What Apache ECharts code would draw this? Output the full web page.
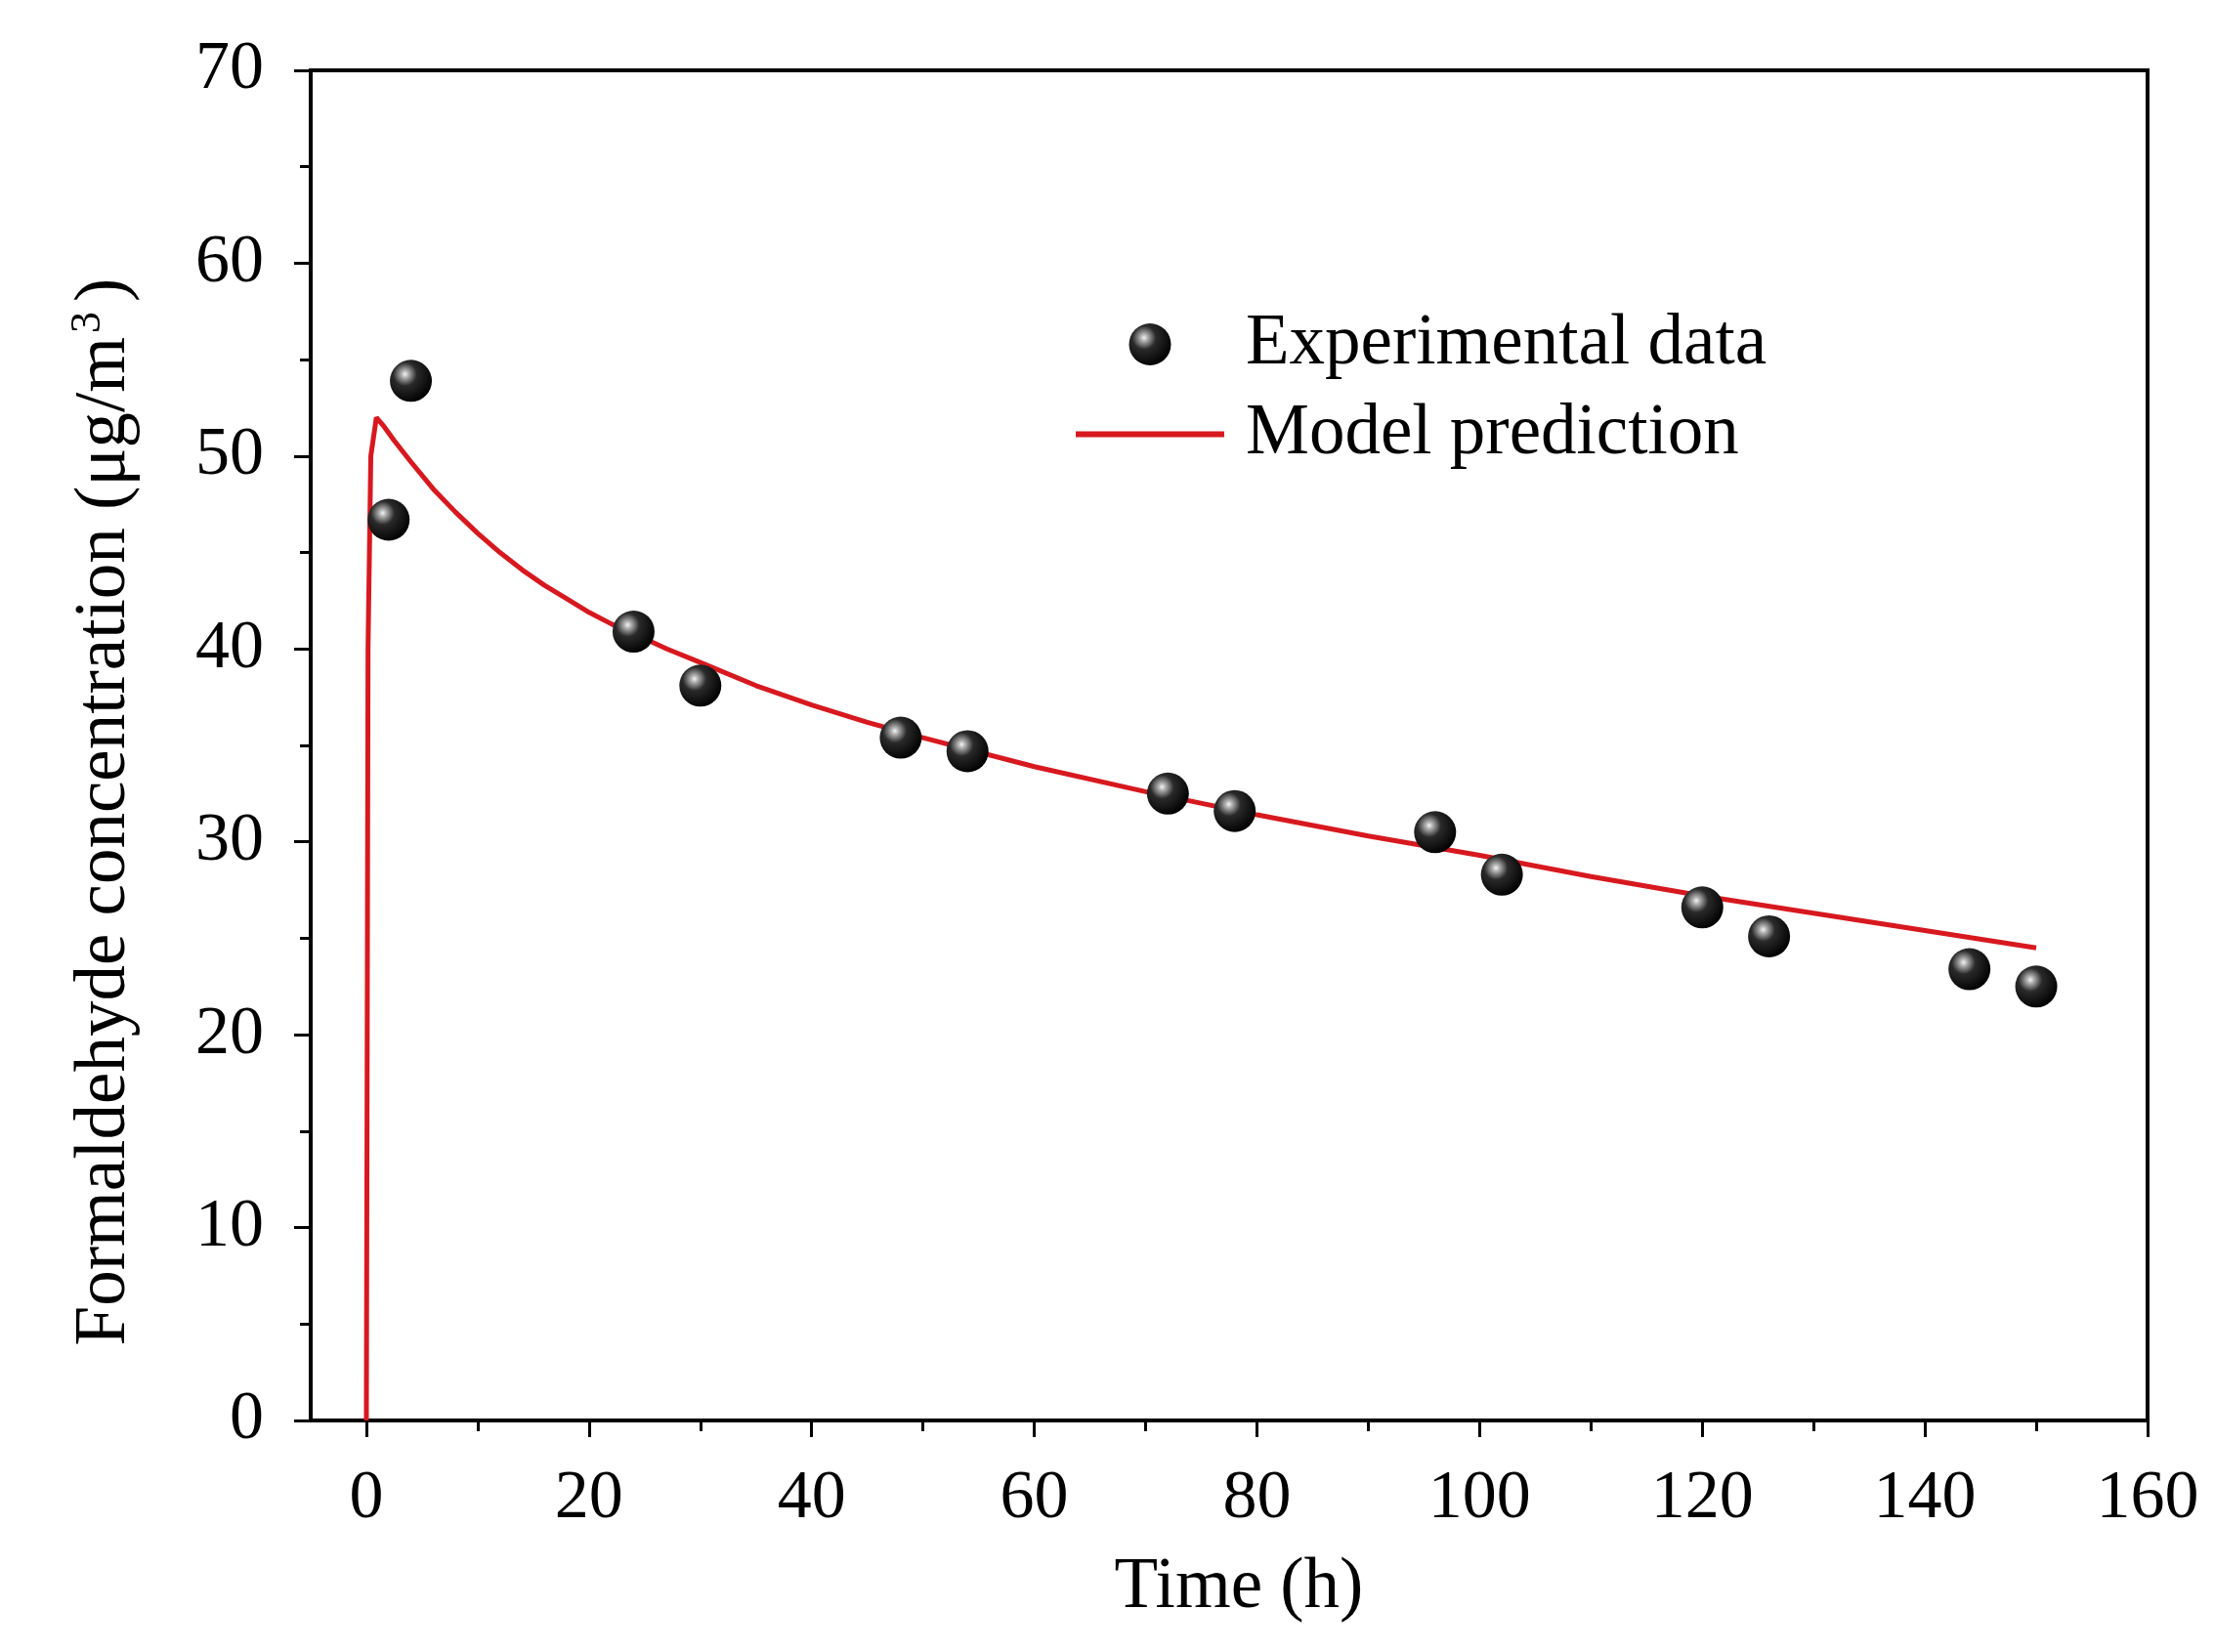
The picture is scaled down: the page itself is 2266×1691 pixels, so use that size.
<!DOCTYPE html>
<html>
<head>
<meta charset="utf-8">
<script src="https://cdn.jsdelivr.net/npm/echarts@6/dist/echarts.min.js"></script>
<style>
  html, body { margin: 0; padding: 0; background: #fff; }
  #container { width: 2266px; height: 1691px; }
</style>
</head>
<body>
<div id="container"></div>
<script>
// experimental points (time in h, concentration in ug/m3)
const expTime = [2, 4, 24, 30, 48, 54, 72, 78, 96, 102, 120, 126, 144, 150];
const expConc = [46.7, 53.9, 40.9, 38.1, 35.4, 34.7, 32.5, 31.6, 30.5, 28.3, 26.6, 25.1, 23.4, 22.5];

// model curve
const modelTime = [0, 0.05, 0.15, 0.4, 0.9, 1.5, 2.5, 4, 6, 8, 10, 12, 14, 16, 18, 20, 22, 24, 27, 30, 35, 40, 45, 50, 60, 70, 80, 90, 100, 110, 120, 130, 140, 150];
const modelConc = [0, 13, 40, 50, 52, 51.6, 50.8, 49.7, 48.3, 47.1, 46.0, 45.0, 44.1, 43.3, 42.6, 41.9, 41.3, 40.8, 40.0, 39.3, 38.1, 37.1, 36.2, 35.4, 33.9, 32.6, 31.4, 30.3, 29.3, 28.2, 27.2, 26.3, 25.4, 24.5];

const xMajor = [0, 20, 40, 60, 80, 100, 120, 140, 160];
const xMinor = [10, 30, 50, 70, 90, 110, 130, 150];

const FONT = 'Liberation Serif';
const RED = '#d7191f';

let dom = document.getElementById('container');
let myChart = echarts.init(dom);

let sphere = {
  type: 'radial', x: 0.36, y: 0.34, r: 0.7,
  colorStops: [
    { offset: 0, color: '#f4f4f4' },
    { offset: 0.12, color: '#b0b0b0' },
    { offset: 0.4, color: '#2a2a2a' },
    { offset: 1, color: '#000000' }
  ]
};

let option = {
  backgroundColor: '#fff',
  animation: false,
  textStyle: { fontFamily: FONT, color: '#000' },
  grid: {
    left: 318, right: 68, top: 72, bottom: 237,
    show: true, borderColor: '#000', borderWidth: 4, backgroundColor: 'transparent'
  },
  legend: {
    orient: 'vertical',
    left: 1098,
    top: 316,
    padding: 0,
    itemWidth: 152,
    itemHeight: 43,
    itemGap: 19,
    textStyle: { fontFamily: FONT, fontSize: 73, lineHeight: 72, color: '#000', padding: [0, 0, 0, 17] },
    data: [
      { name: 'Experimental data', icon: 'circle' },
      {
        name: 'Model prediction',
        itemStyle: { color: 'rgba(0,0,0,0)', borderWidth: 0, opacity: 0 },
        lineStyle: { color: RED, width: 6 }
      }
    ]
  },
  xAxis: [{
    type: 'value',
    min: -5, max: 160,
    name: 'Time (h)',
    nameLocation: 'middle',
    nameGap: 136,
    nameTextStyle: { fontFamily: FONT, fontSize: 73, lineHeight: 72, color: '#000', padding: [0, 0, 0, 20] },
    axisLine: { show: true, onZero: false, lineStyle: { color: '#000', width: 4 } },
    axisTick: { show: true, inside: false, length: 17, customValues: xMajor, lineStyle: { color: '#000', width: 3 } },
    axisLabel: { customValues: xMajor, margin: 45, fontFamily: FONT, fontSize: 70, lineHeight: 72, color: '#000' },
    splitLine: { show: false }
  }, {
    type: 'value',
    min: -5, max: 160,
    position: 'bottom',
    axisLine: { show: false, onZero: false },
    axisTick: { show: true, inside: false, length: 11, customValues: xMinor, lineStyle: { color: '#000', width: 3 } },
    axisLabel: { show: false },
    splitLine: { show: false }
  }],
  yAxis: {
    type: 'value',
    min: 0, max: 70, interval: 10,
    name: '{t|Formaldehyde concentration (μg/m}{s|3}{t|)}',
    nameLocation: 'middle',
    nameRotate: 90,
    nameGap: 170,
    nameTextStyle: {
      padding: [0, 136, 0, 0],
      rich: {
        t: { fontFamily: FONT, fontSize: 73, lineHeight: 80, color: '#000' },
        s: { fontFamily: FONT, fontSize: 44, lineHeight: 44, verticalAlign: 'top', color: '#000', padding: [0, 10, 0, 4] }
      }
    },
    axisLine: { show: true, onZero: false, lineStyle: { color: '#000', width: 4 } },
    axisTick: { show: true, inside: false, length: 17, lineStyle: { color: '#000', width: 3 } },
    minorTick: { show: true, splitNumber: 2, length: 11, lineStyle: { color: '#000', width: 3 } },
    axisLabel: { margin: 48, fontFamily: FONT, fontSize: 70, color: '#000' },
    splitLine: { show: false },
    minorSplitLine: { show: false }
  },
  series: [{
    name: 'Model prediction',
    type: 'line',
    xAxisIndex: 0,
    data: modelTime.map(function (t, i) { return [t, modelConc[i]]; }),
    symbol: 'none',
    smooth: false,
    lineStyle: { color: RED, width: 5 },
    itemStyle: { color: RED },
    z: 2
  }, {
    name: 'Experimental data',
    type: 'scatter',
    xAxisIndex: 0,
    data: expTime.map(function (t, i) { return [t, expConc[i]]; }),
    symbol: 'circle',
    symbolSize: 43,
    symbolKeepAspect: true,
    itemStyle: { color: sphere, opacity: 1 },
    z: 3
  }]
};

myChart.setOption(option);
</script>
</body>
</html>
